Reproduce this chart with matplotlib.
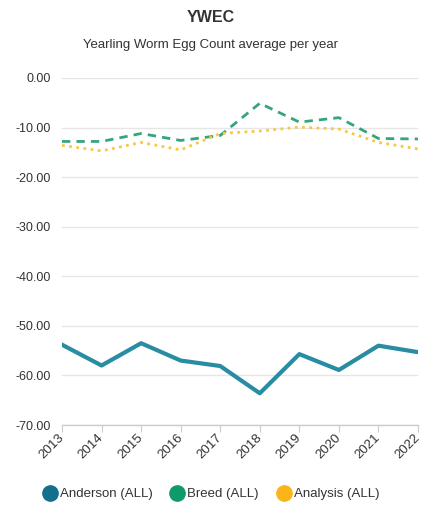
import matplotlib.pyplot as plt
import matplotlib.transforms as mtransforms
from matplotlib.lines import Line2D

plt.rcParams['font.family'] = ['Liberation Sans', 'DejaVu Sans']

years = [2013, 2014, 2015, 2016, 2017, 2018, 2019, 2020, 2021, 2022]
anderson = [-53.8, -58.0, -53.5, -57.0, -58.1, -63.6, -55.7, -58.9, -54.0, -55.3]
breed = [-12.8, -12.8, -11.2, -12.6, -11.6, -5.1, -8.9, -8.0, -12.2, -12.3]
analysis = [-13.6, -14.7, -13.0, -14.5, -11.2, -10.7, -9.9, -10.3, -13.0, -14.3]

W, H = 421, 508
fig = plt.figure(figsize=(W / 100, H / 100), dpi=100)
ax = fig.add_axes([62 / W, 1 - 425 / H, (418 - 62) / W, (425 - 78) / H])

# series
ax.plot(years, anderson, color='#288ca2', lw=3, zorder=3)
ax.plot(years, breed, color='#35a67c', lw=2, ls=(0, (3, 2.2)), zorder=3)
ax.plot(years, analysis, color='#f9c743', lw=2, ls=(0, (1, 1.6)), zorder=3)

ax.set_xlim(2013, 2022)
ax.set_ylim(-70, 0)
ax.set_yticks(range(-70, 1, 10))
ax.set_yticklabels([f'{v:.2f}' for v in range(-70, 1, 10)])
ax.set_xticks(years)
ax.set_xticklabels([str(y) for y in years], rotation=45, ha='right', va='center',
                   rotation_mode='anchor')
shift = mtransforms.ScaledTranslation(-4 / 100, 2 / 100, fig.dpi_scale_trans)
for lbl in ax.get_xticklabels():
    lbl.set_transform(lbl.get_transform() + shift)

ax.grid(axis='y', color='#e6e6e6', lw=1)
ax.set_axisbelow(True)
for s in ['left', 'right', 'top']:
    ax.spines[s].set_visible(False)
ax.spines['bottom'].set_color('#cccccc')
ax.spines['bottom'].set_linewidth(1)
ax.tick_params(axis='y', length=0, labelsize=9, colors='#333333', pad=8)
ax.tick_params(axis='x', length=5, color='#cccccc', labelsize=9.5, labelcolor='#333333', pad=3)

fig.text(0.5, 1 - 17 / H, 'YWEC', ha='center', va='center', fontsize=11.5,
         fontweight='bold', color='#333333')
fig.text(0.5, 1 - 45 / H, 'Yearling Worm Egg Count average per year', ha='center',
         va='center', fontsize=9.5, color='#333333')

handles = [Line2D([], [], marker='o', ls='', ms=11, color=c)
           for c in ['#136f8b', '#0f9b68', '#fab51a']]
fig.legend(handles, ['Anderson (ALL)', 'Breed (ALL)', 'Analysis (ALL)'],
           loc='center', bbox_to_anchor=(0.5, 1 - 494 / H), ncol=3, frameon=False,
           fontsize=9.5, handletextpad=0.15, columnspacing=1.3, handlelength=1.2,
           labelcolor='#333333')

fig.savefig('out.png', dpi=100)
